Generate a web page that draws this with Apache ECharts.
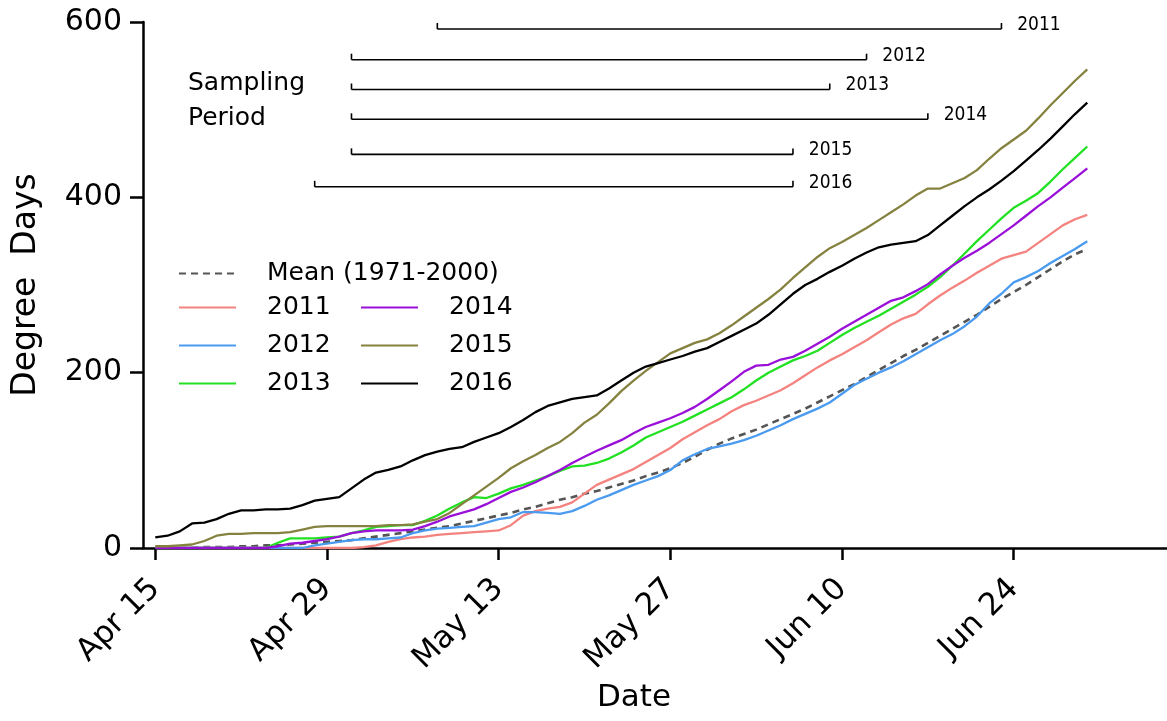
<!DOCTYPE html>
<html>
<head>
<meta charset="utf-8">
<title>Degree Days</title>
<script src="https://cdn.jsdelivr.net/npm/echarts@6/dist/echarts.min.js"></script>
<style>
  html, body { margin: 0; padding: 0; background: #fff; }
  #chart { width: 1167px; height: 721px; }
</style>
</head>
<body>
<div id="chart"></div>
<script>
// Cumulative degree days, one value per day starting Apr 15 (day 0) through Jun 30 (day 76)
const meanDD = [0,0,0,0,1,1,1,2,2,3, 3,4,5,6,7,8,9,11,13,15, 17,19,21,23,25,28,31,34,37,40,
  44,47,51,55,58,62,65,69,73,77, 82,86,91,97,104,112,119,125,130,135, 141,147,153,159,166,173,180,187,195,203,
  211,219,226,234,242,250,258,266,275,284, 292,300,309,318,327,335,341];
const dd2011 = [0,0,0,0,0,0,0,0,0,0, 0,0,0,0,0,0,0,1,3,7, 10,12,13,15,16,17,18,19,20,26,
  37,42,45,47,52,62,72,78,84,90, 98,106,114,124,132,140,147,156,163,168, 174,180,188,197,206,214,221,229,237,246,
  255,262,267,278,288,297,305,314,322,330, 334,338,348,358,368,375,380];
const dd2012 = [0,0,0,0,0,0,0,0,0,0, 0,0,0,3,5,7,9,10,10,11, 12,17,20,22,23,24,25,29,33,35,
  41,41,40,39,42,48,55,60,66,72, 77,82,89,100,107,113,116,119,123,128, 134,140,147,153,159,166,176,186,193,200,
  206,213,221,229,237,244,253,264,279,290, 303,309,316,325,333,341,350];
const dd2013 = [0,0,0,0,0,0,0,0,0,0, 6,11,11,11,12,13,17,20,24,25, 26,26,31,37,45,52,58,57,62,68,
  72,77,82,88,93,94,97,102,109,117, 126,132,138,144,151,158,165,172,181,191, 200,207,214,219,225,234,243,251,258,265,
  273,281,289,298,309,322,336,350,363,376, 388,396,405,418,432,445,458];
const dd2014 = [0,0,0,0,0,0,0,0,0,0, 2,5,6,8,10,13,17,19,20,20, 20,21,25,30,36,40,44,50,57,64,
  69,75,82,89,97,104,111,117,123,131, 138,143,148,154,161,170,180,190,201,208, 209,215,218,225,233,241,250,258,266,274,
  282,286,293,301,312,322,331,339,348,358, 368,379,390,400,411,422,433];
const dd2015 = [2,2,3,4,8,14,16,16,17,17, 17,18,21,24,25,25,25,25,25,26, 26,27,30,33,40,50,60,70,80,91,
  99,106,114,121,131,143,152,165,179,191, 202,212,222,228,234,238,245,254,264,274, 284,295,308,320,332,342,349,357,365,374,
  383,392,402,410,410,416,422,431,444,456, 466,476,490,505,519,533,546];
const dd2016 = [12,14,19,28,29,33,39,43,43,44, 44,45,49,54,56,58,68,78,86,89, 93,100,106,110,113,115,121,126,131,138,
  146,155,162,166,170,172,174,182,191,200, 207,211,215,219,224,228,235,242,249,256, 266,278,290,300,307,315,322,330,337,343,
  346,348,350,357,368,379,390,400,409,419, 430,442,454,467,481,495,508];

// Date axis ticks (days after Apr 15)
const tickDays = [0, 14, 28, 42, 56, 70];
const tickLabels = ['Apr 15', 'Apr 29', 'May 13', 'May 27', 'Jun 10', 'Jun 24'];

// Sampling periods per year: first day, last day, and the height of each bar
const sampleYears = ['2011', '2012', '2013', '2014', '2015', '2016'];
const sampleStart = [23, 16, 16, 16, 16, 13];
const sampleEnd   = [69, 58, 55, 63, 52, 52];
const sampleLevel = [592, 557, 523, 489, 449, 412];

const FONT = '"DejaVu Sans", sans-serif';
const NARROW = '"DejaVu Sans Condensed", "Liberation Sans", sans-serif';

const toPairs = vals => vals.map((v, i) => [i, v]);

const yearSeries = [
  { name: '2011', data: dd2011, color: '#f4837f' },
  { name: '2012', data: dd2012, color: '#4a9bf0' },
  { name: '2013', data: dd2013, color: '#22e022' },
  { name: '2014', data: dd2014, color: '#9a10d8' },
  { name: '2015', data: dd2015, color: '#858240' },
  { name: '2016', data: dd2016, color: '#000000' }
].map(s => ({
  name: s.name,
  type: 'line',
  data: toPairs(s.data),
  symbol: 'none',
  itemStyle: { color: s.color },
  lineStyle: { color: s.color, width: 2.3 },
  z: 3
}));

const meanSeries = {
  name: 'Mean (1971-2000)',
  type: 'line',
  data: toPairs(meanDD),
  symbol: 'none',
  itemStyle: { color: '#555' },
  lineStyle: { color: '#555', width: 2.6, type: [7, 5] },
  z: 2
};

const samplingSeries = sampleYears.map((yr, i) => ({
  name: 'Sampling ' + yr,
  type: 'line',
  silent: true,
  symbol: 'rect',
  symbolSize: [1.6, 6],
  symbolOffset: [0, -3],
  showSymbol: true,
  itemStyle: { color: '#000' },
  lineStyle: { color: '#000', width: 1.6 },
  data: [
    [sampleStart[i], sampleLevel[i]],
    {
      value: [sampleEnd[i], sampleLevel[i]],
      label: {
        show: true, formatter: yr, position: 'right', distance: 15, offset: [0, -1],
        fontFamily: NARROW, fontSize: 19, color: '#000'
      }
    }
  ],
  z: 1
}));

const legendCommon = {
  padding: 0,
  itemWidth: 57,
  itemHeight: 14,
  selectedMode: false,
  itemStyle: { opacity: 0 },
  textStyle: { fontFamily: FONT, fontSize: 25, color: '#000', lineHeight: 24, padding: [0, 0, 0, 26] }
};

const chart = echarts.init(document.getElementById('chart'), null, { renderer: 'canvas' });
chart.setOption({
  animation: false,
  backgroundColor: '#fff',
  grid: { left: 143, right: 0, top: 22, bottom: 173 },
  legend: [
    Object.assign({ data: ['Mean (1971-2000)'], left: 178, top: 261 }, legendCommon),
    Object.assign({ data: ['2011', '2012', '2013'], orient: 'vertical', left: 178, top: 295, itemGap: 13 }, legendCommon),
    Object.assign({ data: ['2014', '2015', '2016'], orient: 'vertical', left: 360, top: 295, itemGap: 13 }, legendCommon)
  ],
  xAxis: {
    type: 'value',
    min: -1,
    max: 82.5,
    name: 'Date',
    nameLocation: 'middle',
    nameGap: 134,
    nameTextStyle: { fontFamily: FONT, fontSize: 31, color: '#000', padding: [0, 42, 0, 0] },
    axisLine: { onZero: false, lineStyle: { color: '#000', width: 2.5 } },
    axisTick: { customValues: tickDays, length: 12, lineStyle: { color: '#000', width: 2.5 } },
    axisLabel: {
      customValues: tickDays,
      rotate: 45,
      margin: 36,
      fontFamily: FONT,
      fontSize: 31,
      color: '#000',
      formatter: v => tickLabels[tickDays.indexOf(v)]
    },
    splitLine: { show: false }
  },
  yAxis: {
    type: 'value',
    min: 0,
    max: 600,
    interval: 200,
    name: 'Degree  Days',
    nameLocation: 'middle',
    nameGap: 100,
    nameTextStyle: { fontFamily: FONT, fontSize: 33, color: '#000' },
    axisLine: { show: true, onZero: false, lineStyle: { color: '#000', width: 2.5 } },
    axisTick: { show: true, length: 13, lineStyle: { color: '#000', width: 2.5 } },
    axisLabel: { fontFamily: FONT, fontSize: 30, color: '#000', margin: 21 },
    splitLine: { show: false }
  },
  graphic: [
    { type: 'text', left: 188, top: 71, style: { text: 'Sampling', font: '25px ' + FONT, fill: '#000' } },
    { type: 'text', left: 188, top: 106, style: { text: 'Period', font: '25px ' + FONT, fill: '#000' } }
  ],
  series: [meanSeries].concat(yearSeries, samplingSeries)
});
</script>
</body>
</html>
